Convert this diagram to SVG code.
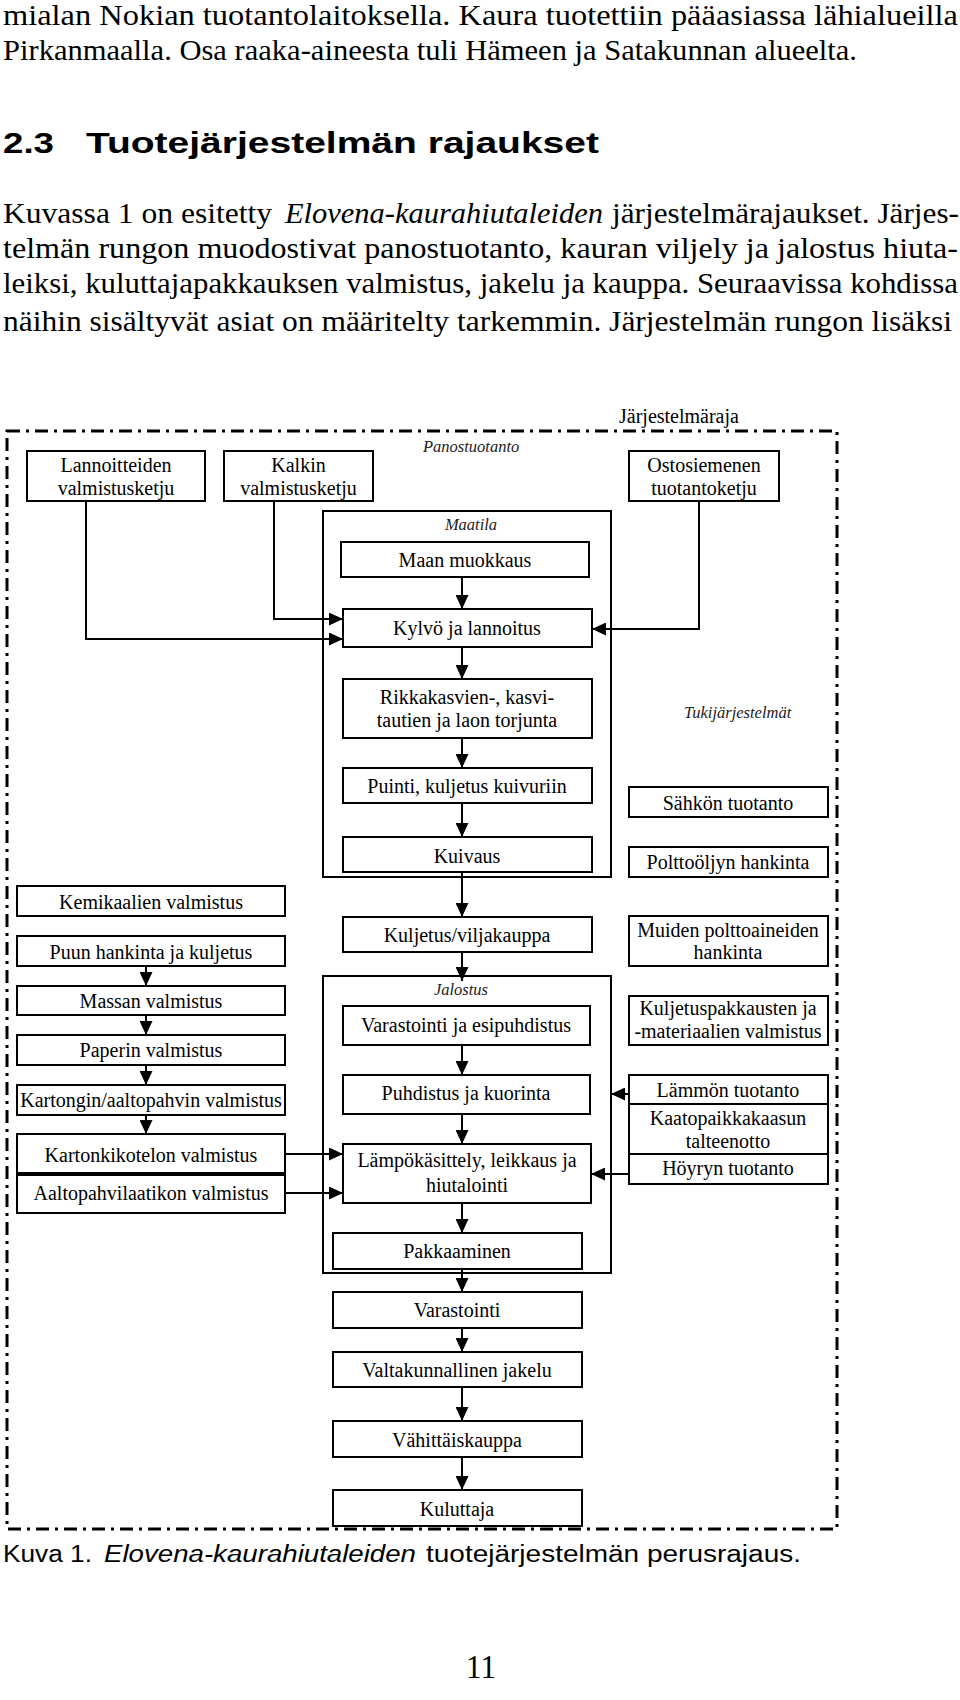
<svg xmlns="http://www.w3.org/2000/svg" width="960" height="1700" viewBox="0 0 960 1700">
<style>
.body{font-family:"Liberation Serif","Times New Roman",serif;font-size:29.5px;fill:#000}
.it{font-style:italic}
.head{font-family:"Liberation Sans",Arial,sans-serif;font-size:30px;font-weight:bold;fill:#000}
.cap{font-family:"Liberation Sans",Arial,sans-serif;font-size:23px;fill:#000}
.lbl{font-family:"Liberation Serif","Times New Roman",serif;font-size:20px;fill:#000;text-anchor:middle}
.grp{font-family:"Liberation Serif","Times New Roman",serif;font-size:16.5px;font-style:italic;fill:#222}
.box{fill:none;stroke:#000;stroke-width:2}
.con{fill:none;stroke:#000;stroke-width:2}
.arr{fill:none;stroke:#000;stroke-width:2;marker-end:url(#ah)}
.border{fill:none;stroke:#000;stroke-width:3;stroke-dasharray:13 6 3 6}
</style>
<defs>
<marker id="ah" markerWidth="14" markerHeight="13" refX="14" refY="6.5" orient="auto" markerUnits="userSpaceOnUse">
<path d="M0,0 L14,6.5 L0,13 Z" fill="#000"/>
</marker>
</defs>
<rect x="0" y="0" width="960" height="1700" fill="#fff"/>

<!-- page text -->
<g id="pagetext">
<text class="body" x="3" y="25" textLength="955" lengthAdjust="spacingAndGlyphs">mialan Nokian tuotantolaitoksella. Kaura tuotettiin pääasiassa lähialueilla</text>
<text class="body" x="3" y="60" textLength="854" lengthAdjust="spacingAndGlyphs">Pirkanmaalla. Osa raaka-aineesta tuli Hämeen ja Satakunnan alueelta.</text>
<text class="head" x="3" y="153" textLength="51" lengthAdjust="spacingAndGlyphs">2.3</text>
<text class="head" x="86" y="153" textLength="513" lengthAdjust="spacingAndGlyphs">Tuotejärjestelmän rajaukset</text>
<text class="body" x="3" y="223" textLength="269" lengthAdjust="spacingAndGlyphs">Kuvassa 1 on esitetty</text>
<text class="body it" x="285" y="223" textLength="318" lengthAdjust="spacingAndGlyphs">Elovena-kaurahiutaleiden</text>
<text class="body" x="612" y="223" textLength="347" lengthAdjust="spacingAndGlyphs">järjestelmärajaukset. Järjes-</text>
<text class="body" x="3" y="258" textLength="955" lengthAdjust="spacingAndGlyphs">telmän rungon muodostivat panostuotanto, kauran viljely ja jalostus hiuta-</text>
<text class="body" x="3" y="293" textLength="955" lengthAdjust="spacingAndGlyphs">leiksi, kuluttajapakkauksen valmistus, jakelu ja kauppa. Seuraavissa kohdissa</text>
<text class="body" x="3" y="331" textLength="949" lengthAdjust="spacingAndGlyphs">näihin sisältyvät  asiat on  määritelty  tarkemmin. Järjestelmän rungon  lisäksi</text>
<text class="cap" x="3" y="1562" textLength="89" lengthAdjust="spacingAndGlyphs">Kuva 1.</text>
<text class="cap it" x="104" y="1562" textLength="312" lengthAdjust="spacingAndGlyphs">Elovena-kaurahiutaleiden</text>
<text class="cap" x="426" y="1562" textLength="375" lengthAdjust="spacingAndGlyphs">tuotejärjestelmän perusrajaus.</text>
<text class="body" x="481" y="1678" text-anchor="middle" style="font-size:34px" textLength="30" lengthAdjust="spacingAndGlyphs">11</text>
</g>

<!-- system boundary -->
<g id="jarjestelmaraja">
<rect class="border" x="7" y="431" width="830" height="1098"/>
<text class="lbl" x="619" y="423" style="text-anchor:start">Järjestelmäraja</text>
</g>

<!-- group labels / containers -->
<g id="panostuotanto"><text class="grp" x="423" y="452">Panostuotanto</text></g>
<g id="maatila">
<rect class="box" x="323" y="511" width="288" height="366"/>
<text class="grp" x="471" y="530" text-anchor="middle">Maatila</text>
</g>
<g id="jalostus">
<rect class="box" x="323" y="976" width="288" height="297"/>
<text class="grp" x="461" y="995" text-anchor="middle">Jalostus</text>
</g>
<g id="tukijarjestelmat"><text class="grp" x="684" y="718">Tukijärjestelmät</text></g>

<!-- top input chains -->
<g id="n-lannoitteiden"><rect class="box" x="27" y="451" width="178" height="50"/><text class="lbl" x="116" y="472">Lannoitteiden</text><text class="lbl" x="116" y="495">valmistusketju</text></g>
<g id="n-kalkin"><rect class="box" x="224" y="451" width="149" height="50"/><text class="lbl" x="298.5" y="472">Kalkin</text><text class="lbl" x="298.5" y="495">valmistusketju</text></g>
<g id="n-ostosiemenen"><rect class="box" x="629" y="451" width="150" height="50"/><text class="lbl" x="704" y="472">Ostosiemenen</text><text class="lbl" x="704" y="495">tuotantoketju</text></g>

<!-- main column -->
<g id="n-maan"><rect class="box" x="341" y="542" width="248" height="35"/><text class="lbl" x="465" y="567">Maan muokkaus</text></g>
<g id="n-kylvo"><rect class="box" x="343" y="609" width="249" height="38"/><text class="lbl" x="467" y="635">Kylvö ja lannoitus</text></g>
<g id="n-rikka"><rect class="box" x="343" y="679" width="249" height="59"/><text class="lbl" x="467" y="704">Rikkakasvien-, kasvi-</text><text class="lbl" x="467" y="727">tautien ja laon torjunta</text></g>
<g id="n-puinti"><rect class="box" x="343" y="768" width="249" height="35"/><text class="lbl" x="467" y="793">Puinti, kuljetus kuivuriin</text></g>
<g id="n-kuivaus"><rect class="box" x="343" y="837" width="249" height="35"/><text class="lbl" x="467" y="863">Kuivaus</text></g>
<g id="n-kuljetus"><rect class="box" x="343" y="917" width="249" height="35"/><text class="lbl" x="467" y="942">Kuljetus/viljakauppa</text></g>
<g id="n-varastointi-esi"><rect class="box" x="343" y="1006" width="247" height="39"/><text class="lbl" x="466" y="1032">Varastointi ja esipuhdistus</text></g>
<g id="n-puhdistus"><rect class="box" x="343" y="1075" width="247" height="39"/><text class="lbl" x="466" y="1100">Puhdistus ja kuorinta</text></g>
<g id="n-lampo"><rect class="box" x="343" y="1144" width="248" height="59"/><text class="lbl" x="467" y="1167">Lämpökäsittely, leikkaus ja</text><text class="lbl" x="467" y="1192">hiutalointi</text></g>
<g id="n-pakkaaminen"><rect class="box" x="333" y="1233" width="249" height="36"/><text class="lbl" x="457" y="1258">Pakkaaminen</text></g>
<g id="n-varastointi"><rect class="box" x="333" y="1292" width="249" height="36"/><text class="lbl" x="457" y="1317">Varastointi</text></g>
<g id="n-valtakunnallinen"><rect class="box" x="333" y="1352" width="249" height="35"/><text class="lbl" x="457" y="1377">Valtakunnallinen jakelu</text></g>
<g id="n-vahittais"><rect class="box" x="333" y="1421" width="249" height="36"/><text class="lbl" x="457" y="1447">Vähittäiskauppa</text></g>
<g id="n-kuluttaja"><rect class="box" x="333" y="1490" width="249" height="36"/><text class="lbl" x="457" y="1516">Kuluttaja</text></g>

<!-- left column -->
<g id="n-kemikaalien"><rect class="box" x="17" y="886" width="268" height="30"/><text class="lbl" x="151" y="909">Kemikaalien valmistus</text></g>
<g id="n-puun"><rect class="box" x="17" y="936" width="268" height="30"/><text class="lbl" x="151" y="959">Puun hankinta ja kuljetus</text></g>
<g id="n-massan"><rect class="box" x="17" y="986" width="268" height="29"/><text class="lbl" x="151" y="1008">Massan valmistus</text></g>
<g id="n-paperin"><rect class="box" x="17" y="1035" width="268" height="30"/><text class="lbl" x="151" y="1057">Paperin valmistus</text></g>
<g id="n-kartongin"><rect class="box" x="17" y="1085" width="268" height="30"/><text class="lbl" x="151" y="1107">Kartongin/aaltopahvin valmistus</text></g>
<g id="n-kartonkikotelon"><rect class="box" x="17" y="1134" width="268" height="39"/><text class="lbl" x="151" y="1162">Kartonkikotelon valmistus</text></g>
<g id="n-aaltopahvilaatikon"><rect class="box" x="17" y="1175" width="268" height="38"/><text class="lbl" x="151" y="1200">Aaltopahvilaatikon valmistus</text></g>

<!-- right column -->
<g id="n-sahkon"><rect class="box" x="629" y="787" width="199" height="30"/><text class="lbl" x="728" y="810">Sähkön tuotanto</text></g>
<g id="n-polttooljyn"><rect class="box" x="629" y="847" width="199" height="30"/><text class="lbl" x="728" y="869">Polttoöljyn hankinta</text></g>
<g id="n-muiden"><rect class="box" x="629" y="916" width="199" height="50"/><text class="lbl" x="728" y="937">Muiden polttoaineiden</text><text class="lbl" x="728" y="959">hankinta</text></g>
<g id="n-kuljetuspakkausten"><rect class="box" x="629" y="996" width="199" height="49"/><text class="lbl" x="728" y="1015">Kuljetuspakkausten ja</text><text class="lbl" x="728" y="1038">-materiaalien valmistus</text></g>
<g id="n-lammon"><rect class="box" x="629" y="1075" width="199" height="29"/><text class="lbl" x="728" y="1097">Lämmön tuotanto</text></g>
<g id="n-kaatopaikka"><rect class="box" x="629" y="1104" width="199" height="50"/><text class="lbl" x="728" y="1125">Kaatopaikkakaasun</text><text class="lbl" x="728" y="1148">talteenotto</text></g>
<g id="n-hoyryn"><rect class="box" x="629" y="1154" width="199" height="30"/><text class="lbl" x="728" y="1175">Höyryn tuotanto</text></g>

<!-- connectors -->
<g id="connectors">
<polyline class="arr" points="86,501 86,639 343,639"/>
<polyline class="arr" points="274,501 274,619 343,619"/>
<polyline class="arr" points="699,501 699,629 592,629"/>
<line class="arr" x1="462" y1="577" x2="462" y2="609"/>
<line class="arr" x1="462" y1="647" x2="462" y2="679"/>
<line class="arr" x1="462" y1="738" x2="462" y2="768"/>
<line class="arr" x1="462" y1="803" x2="462" y2="837"/>
<line class="arr" x1="462" y1="872" x2="462" y2="917"/>
<line class="arr" x1="462" y1="952" x2="462" y2="981"/>
<line class="arr" x1="462" y1="1045" x2="462" y2="1075"/>
<line class="arr" x1="462" y1="1114" x2="462" y2="1144"/>
<line class="arr" x1="462" y1="1203" x2="462" y2="1233"/>
<line class="arr" x1="462" y1="1269" x2="462" y2="1292"/>
<line class="arr" x1="462" y1="1328" x2="462" y2="1352"/>
<line class="arr" x1="462" y1="1387" x2="462" y2="1421"/>
<line class="arr" x1="462" y1="1457" x2="462" y2="1490"/>
<line class="arr" x1="146" y1="966" x2="146" y2="986"/>
<line class="arr" x1="146" y1="1015" x2="146" y2="1035"/>
<line class="arr" x1="146" y1="1065" x2="146" y2="1085"/>
<line class="arr" x1="146" y1="1115" x2="146" y2="1134"/>
<line class="arr" x1="285" y1="1154" x2="343" y2="1154"/>
<line class="arr" x1="285" y1="1193" x2="343" y2="1193"/>
<line class="arr" x1="629" y1="1094" x2="611" y2="1094"/>
<line class="arr" x1="629" y1="1174" x2="591" y2="1174"/>
</g>
</svg>
